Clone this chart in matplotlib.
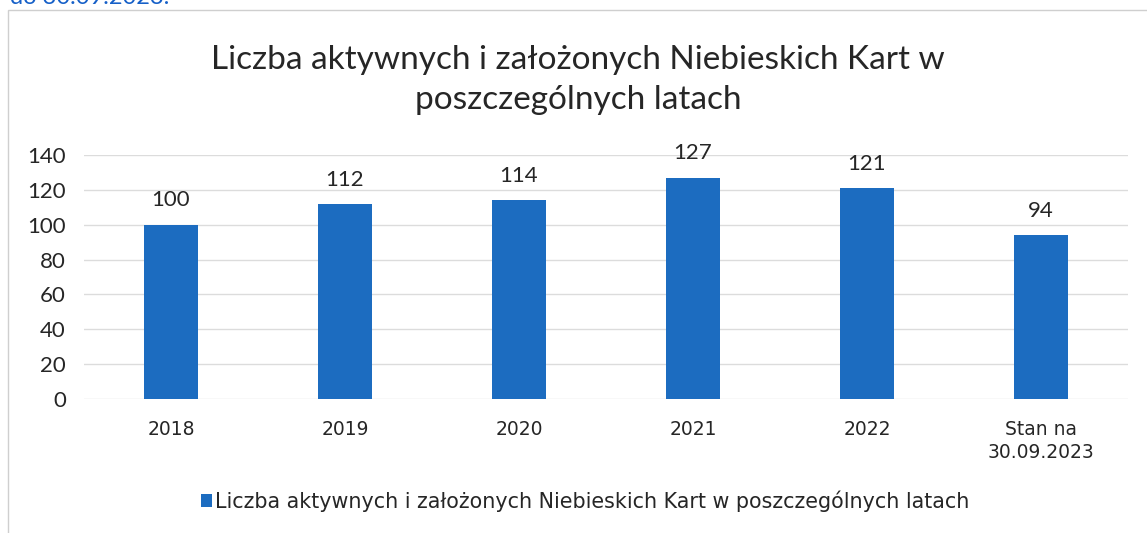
import matplotlib.pyplot as plt
from matplotlib.patches import Rectangle

# data
categories = ["2018", "2019", "2020", "2021", "2022", "Stan na\n30.09.2023"]
values = [100, 112, 114, 127, 121, 94]
yticks = [0, 20, 40, 60, 80, 100, 120, 140]
title = "Liczba aktywnych i założonych Niebieskich Kart w\nposzczególnych latach"
series_name = "Liczba aktywnych i założonych Niebieskich Kart w poszczególnych latach"

bar_color = "#1c6cc0"
text_color = "#262626"

fig = plt.figure(figsize=(11.47, 5.33), dpi=100, facecolor="white")

# faint border of the chart box (scan is cropped on right and bottom)
fig.patches.append(Rectangle((8 / 1147, -0.05), 1.2, 1.05 - 10 / 533,
                             transform=fig.transFigure, fill=False,
                             edgecolor="#cfcfcf", lw=1.0))

# cut-off heading of the page above the chart
fig.text(10 / 1147, 1 - 4 / 533, "do 30.09.2023.", color="#1660c8",
         fontsize=17, family="Lato", va="baseline", ha="left")

ax = fig.add_axes([84 / 1147, 1 - 399 / 533, 1044 / 1147, 244 / 533])
x = list(range(len(categories)))
bars = ax.bar(x, values, width=0.316, color=bar_color, zorder=3,
              label=series_name)

# value labels above bars
for xi, v in zip(x, values):
    ax.text(xi, v + 10.5, str(v), ha="center", va="baseline", fontsize=16,
            family="Lato", color=text_color)

ax.set_xlim(-0.5, len(categories) - 0.5)
ax.set_ylim(0, 140)
ax.set_yticks(yticks)
ax.set_yticklabels([str(t) for t in yticks], family="Lato", fontsize=16,
                   color=text_color)
ax.set_xticks(x)
ax.set_xticklabels(categories, family="DejaVu Sans", fontsize=13.5,
                   color=text_color, linespacing=1.25)
ax.tick_params(axis="both", length=0)
ax.tick_params(axis="y", pad=13)
ax.tick_params(axis="x", pad=15)
for s in ax.spines.values():
    s.set_visible(False)
ax.grid(axis="y", color="#dcdcdc", lw=1.0, zorder=0)
ax.set_axisbelow(True)

# title
fig.text(0.504, 1 - 80 / 533, title, ha="center", va="center",
         fontsize=24, family="Lato", color=text_color, linespacing=1.4)

# legend
fig.legend(handles=[bars], labels=[series_name], loc="center",
           bbox_to_anchor=(0.51, 1 - 501 / 533), frameon=False,
           prop={"family": "DejaVu Sans", "size": 14.9},
           handlelength=0.55, handleheight=0.55, handletextpad=0.15,
           labelcolor=text_color)

fig.savefig("out.png", dpi=100, facecolor="white")
